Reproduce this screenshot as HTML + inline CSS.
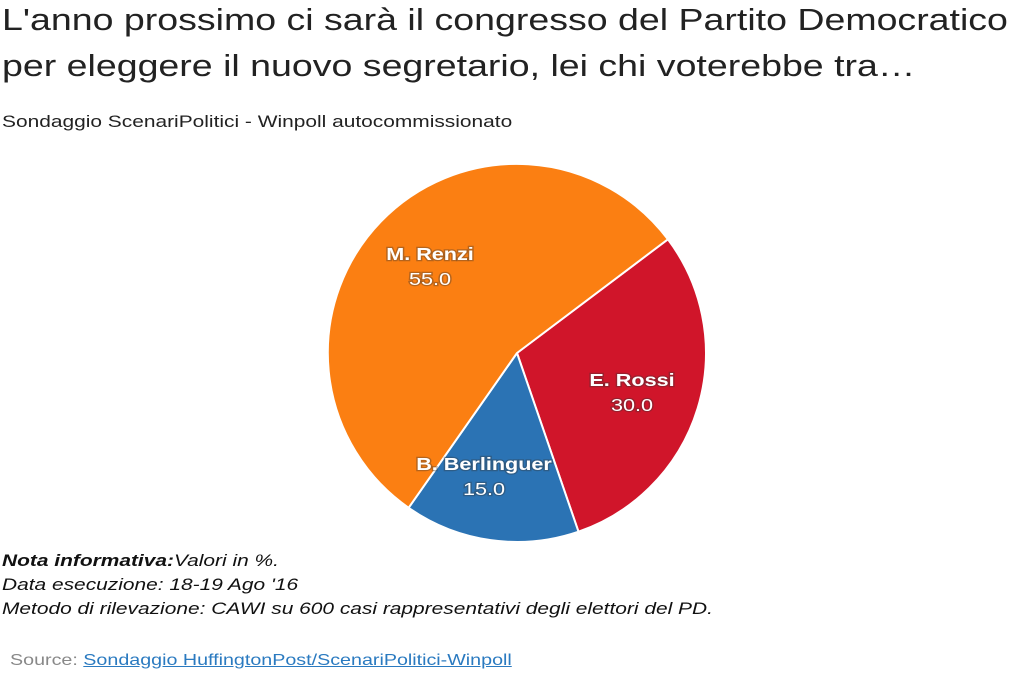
<!DOCTYPE html>
<html><head><meta charset="utf-8"><style>
body{margin:0;width:1024px;height:678px;background:#fff;font-family:"Liberation Sans",Arial,sans-serif;position:relative;overflow:hidden}
.x{transform:scaleX(1.23);transform-origin:0 0;white-space:nowrap}
.t{position:absolute;left:2px;top:-3px;font-size:30.5px;line-height:46px;color:#222}
.s{position:absolute;left:2px;top:112px;font-size:17px;color:#222}
.n{position:absolute;left:2px;top:549px;font-size:17px;line-height:24px;font-style:italic;color:#111}
.src{position:absolute;left:10px;top:652px;font-size:16px;color:#888}
.src span{color:#2a7ac0;text-decoration:underline}
svg{position:absolute;left:0;top:0}
</style></head><body>
<div class="t x">L'anno prossimo ci sarà il congresso del Partito Democratico<br>per eleggere il nuovo segretario, lei chi voterebbe tra…</div>
<div class="s x">Sondaggio ScenariPolitici - Winpoll autocommissionato</div>
<svg width="1024" height="678">
<g stroke="#fff" stroke-width="2" stroke-linejoin="round">
<path d="M517,353 L667.9,239.3 A189,189 0 0 1 578.5,531.7 Z" fill="#d0152a"/>
<path d="M517,353 L578.5,531.7 A189,189 0 0 1 408.6,507.8 Z" fill="#2b73b4"/>
<path d="M517,353 L408.6,507.8 A189,189 0 1 1 667.9,239.3 Z" fill="#fb7f12"/>
</g>
<g font-size="18" fill="#fff" text-anchor="middle" stroke="#333" stroke-width="2.5" paint-order="stroke" stroke-opacity="0.35">
<text transform="translate(430,260) scale(1.2,1)" font-weight="bold">M. Renzi</text><text transform="translate(430,285) scale(1.2,1)">55.0</text>
<text transform="translate(632,386) scale(1.2,1)" font-weight="bold">E. Rossi</text><text transform="translate(632,411) scale(1.2,1)">30.0</text>
<text transform="translate(484,470) scale(1.2,1)" font-weight="bold">B. Berlinguer</text><text transform="translate(484,495) scale(1.2,1)">15.0</text>
</g>
</svg>
<div class="n x"><b>Nota informativa:</b>Valori in %.<br>Data esecuzione: 18-19 Ago '16<br>Metodo di rilevazione: CAWI su 600 casi rappresentativi degli elettori del PD.</div>
<div class="src x">Source: <span>Sondaggio HuffingtonPost/ScenariPolitici-Winpoll</span></div>
</body></html>
